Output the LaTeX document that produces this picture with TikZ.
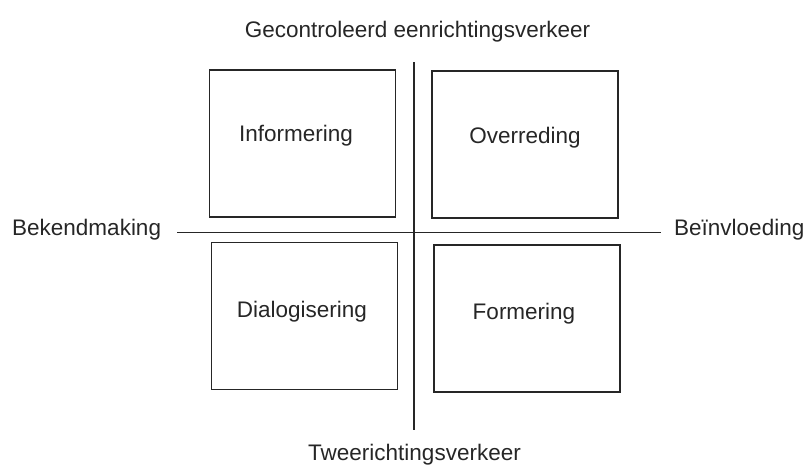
\documentclass[tikz,border=0pt]{standalone}
\usepackage{fontspec}
\setmainfont{Liberation Sans}
\usetikzlibrary{positioning}

\begin{document}
\begin{tikzpicture}[x=1pt, y=-1pt,
    vak/.style={draw=black!85, line width=1.7pt, minimum width=186pt, minimum height=147pt, inner sep=0pt},
    tekst/.style={text=black!85, font=\fontsize{22.5}{27}\selectfont, inner sep=0pt, anchor=base},
    as/.style={draw=black!85, line width=1.4pt}]

\useasboundingbox (0,0) rectangle (803,467);

% assen
\coordinate (links) at (177,232.5);
\coordinate (rechts) at (661,232.5);
\coordinate (boven) at (414,62);
\coordinate (onder) at (414,430);
\draw[as] (links) -- (rechts);
\draw[as] (boven) -- (onder);

% vier vakken
\node[vak] (inf) at (302.5,143.5) {};
\node[vak] (ovr) at (525,144.5) {};
\node[vak] (dia) at (304.5,316) {};
\node[vak] (frm) at (527,318.5) {};

\node[tekst] (tinf) at (296,141) {Informering};
\node[tekst] (tovr) at (525,143) {Overreding};
\node[tekst] (tdia) at (302,317) {Dialogisering};
\node[tekst] (tfrm) at (524,319) {Formering};

% labels bij de assen
\node[tekst] (gec) at (417.5,37) {Gecontroleerd eenrichtingsverkeer};
\node[tekst] (twe) at (414.5,460) {Tweerichtingsverkeer};
\node[tekst, anchor=base west] (bek) at (12,235) {Bekendmaking};
\node[tekst, anchor=base west] (bei) at (674,235) {Beïnvloeding};

\end{tikzpicture}
\end{document}
